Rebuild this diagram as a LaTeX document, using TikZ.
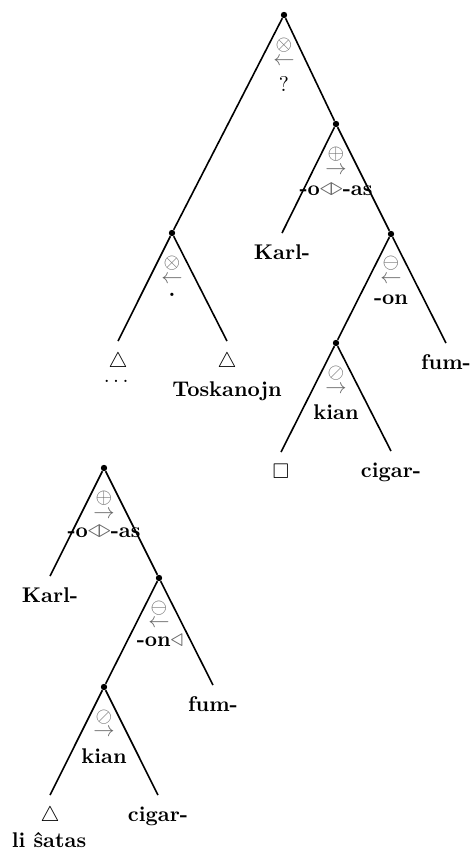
\documentclass[tikz,border=0pt]{standalone}
\usepackage{amsmath}
\usepackage{amssymb}
\usetikzlibrary{positioning}

\newcommand{\lrtri}{\textcolor{black!60}{\large$\mathord{\triangleleft}\mkern-1.5mu\mathord{\triangleright}$}}
\newcommand{\ltri}{\textcolor{black!60}{\large$\mathord{\triangleleft}$}}

\begin{document}
\begin{tikzpicture}[x=0.47pt, y=-0.47pt,
    every node/.style={inner sep=1pt},
    dot/.style={circle, fill, inner sep=0pt, minimum size=3pt},
    op/.style={text=black!60, inner sep=0pt},
    morph/.style={anchor=base, font=\bfseries},
    leaf/.style={anchor=base, font=\bfseries, text height=7pt, inner ysep=5pt},
    branch/.style={line width=0.75pt}
]
\useasboundingbox (0,0) rectangle (474,855);

% upper tree
\node[dot] (root) at (284,15) {};
\node[op]  (root_op)  at (284,45) {$\otimes$};
\node[op]  (root_dir) at (284,62) {$\leftarrow$};
\node[anchor=base] (root_m) at (284,91) {?};

\node[dot] (xl) at (172,233) {};
\node[op]  (xl_op)  at (172,263) {$\otimes$};
\node[op]  (xl_dir) at (172,280) {$\leftarrow$};
\node[morph] (xl_m) at (172,296) {.};

\node[dot] (xr) at (336,124) {};
\node[op]  (xr_op)  at (336,154) {$\oplus$};
\node[op]  (xr_dir) at (336,171) {$\rightarrow$};
\node[morph] (xr_m) at (336,195) {-o\lrtri-as};

\node[dot] (on) at (391,234) {};
\node[op]  (on_op)  at (391,263) {$\ominus$};
\node[op]  (on_dir) at (391,280) {$\leftarrow$};
\node[morph] (on_m) at (391,304) {-on};

\node[dot] (kian) at (336,343) {};
\node[op]  (kian_op)  at (336,373) {$\oslash$};
\node[op]  (kian_dir) at (336,390) {$\rightarrow$};
\node[morph] (kian_m) at (336,419) {kian};

\node[leaf] (tri_a) at (118,367) {$\triangle$};
\node[leaf] (tri_b) at (227,367) {$\triangle$};
\node[anchor=base] (dots) at (118,382) {$\dots$};
\node[morph] (tosk) at (227,396) {Toskanojn};
\node[leaf] (karl) at (282,259) {Karl-};
\node[leaf] (fum)  at (446,369) {fum-};
\node[leaf] (gap)  at (281,478) {$\Box$};
\node[leaf] (cigar) at (391,477) {cigar-};

\path[branch]
    (root) edge (xl)
    (root) edge (xr)
    (xl) edge (tri_a.north)
    (xl) edge (tri_b.north)
    (xr) edge (karl.north)
    (xr) edge (on)
    (on) edge (kian)
    (on) edge (fum.north)
    (kian) edge (gap.north)
    (kian) edge (cigar.north);

% lower tree
\node[dot] (b_as) at (104,468) {};
\node[op]  (b_as_op)  at (104,498) {$\oplus$};
\node[op]  (b_as_dir) at (104,515) {$\rightarrow$};
\node[morph] (b_as_m) at (104,537) {-o\lrtri-as};

\node[dot] (b_on) at (159,578) {};
\node[op]  (b_on_op)  at (159,608) {$\ominus$};
\node[op]  (b_on_dir) at (159,624) {$\leftarrow$};
\node[morph] (b_on_m) at (160,646) {-on\ltri};

\node[dot] (b_kian) at (104,687) {};
\node[op]  (b_kian_op)  at (104,717) {$\oslash$};
\node[op]  (b_kian_dir) at (104,733) {$\rightarrow$};
\node[morph] (b_kian_m) at (104,763) {kian};

\node[leaf] (b_karl)  at (50,602)  {Karl-};
\node[leaf] (b_fum)   at (213,711) {fum-};
\node[leaf] (b_tri)   at (50,821)  {$\triangle$};
\node[leaf] (b_cigar) at (158,821) {cigar-};
\node[morph] (b_satas) at (49,847) {li ŝatas};

\path[branch]
    (b_as) edge (b_karl.north)
    (b_as) edge (b_on)
    (b_on) edge (b_kian)
    (b_on) edge (b_fum.north)
    (b_kian) edge (b_tri.north)
    (b_kian) edge (b_cigar.north);
\end{tikzpicture}
\end{document}
